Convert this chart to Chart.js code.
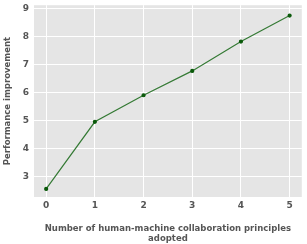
<!DOCTYPE html>
<html>
<head>
<meta charset="utf-8">
<script src="https://cdn.jsdelivr.net/npm/chart.js@4"></script>
<style>
  html, body { margin: 0; padding: 0; background: #fff; }
  #wrap { width: 307px; height: 244px; }
</style>
</head>
<body>
<div id="wrap"><canvas id="chart" width="307" height="244"></canvas></div>
<script>
// Data
const principles = [0, 1, 2, 3, 4, 5];
const improvement = [2.55, 4.95, 5.9, 6.77, 7.82, 8.75];
const xTicks = [0, 1, 2, 3, 4, 5];
const yTicks = [3, 4, 5, 6, 7, 8, 9];

const txt = '#555555';
const font = { family: 'DejaVu Sans', size: 9, weight: 'bold' };

// grey panel behind the plot (ggplot style)
const panelBg = {
    id: 'panelBg',
    beforeDraw(chart) {
        const { ctx, chartArea: a } = chart;
        ctx.save();
        ctx.fillStyle = '#e5e5e5';
        ctx.fillRect(a.left, a.top, a.right - a.left, a.bottom - a.top);
        ctx.restore();
    }
};

new Chart(document.getElementById('chart'), {
    type: 'line',
    data: {
        datasets: [{
            data: principles.map((x, i) => ({ x: x, y: improvement[i] })),
            borderColor: '#357a35',
            borderWidth: 1.2,
            pointRadius: 1.5,
            pointBackgroundColor: '#0b5a0b',
            pointBorderColor: '#0b5a0b',
            tension: 0
        }]
    },
    options: {
        responsive: false,
        animation: false,
        layout: { padding: { top: 3, right: 2, left: 0, bottom: 0 } },
        plugins: { legend: { display: false }, tooltip: { enabled: false } },
        scales: {
            x: {
                type: 'linear',
                min: -0.25,
                max: 5.25,
                afterBuildTicks: s => { s.ticks = xTicks.map(v => ({ value: v })); },
                afterFit: s => { s.height = 47; },
                grid: { color: '#ffffff', lineWidth: 1, drawTicks: false },
                border: { display: false },
                ticks: { color: txt, font: font, padding: 3, maxRotation: 0 },
                title: {
                    display: true,
                    text: ['Number of human-machine collaboration principles', 'adopted'],
                    color: txt,
                    font: { family: 'DejaVu Sans', size: 8.5, weight: 'bold' },
                    padding: { top: 6, bottom: 0 }
                }
            },
            y: {
                min: 2.26,
                max: 9.12,
                afterBuildTicks: s => { s.ticks = yTicks.map(v => ({ value: v })); },
                afterFit: s => { s.width = 34; s.paddingTop = 0; s.paddingBottom = 0; },
                grid: { color: '#ffffff', lineWidth: 1, drawTicks: false },
                border: { display: false },
                ticks: { color: txt, font: font, padding: 5 },
                title: {
                    display: true,
                    text: 'Performance improvement',
                    color: txt,
                    font: { family: 'DejaVu Sans', size: 8.5, weight: 'bold' },
                    padding: { top: 3, bottom: 0 }
                }
            }
        }
    },
    plugins: [panelBg]
});
</script>
</body>
</html>
